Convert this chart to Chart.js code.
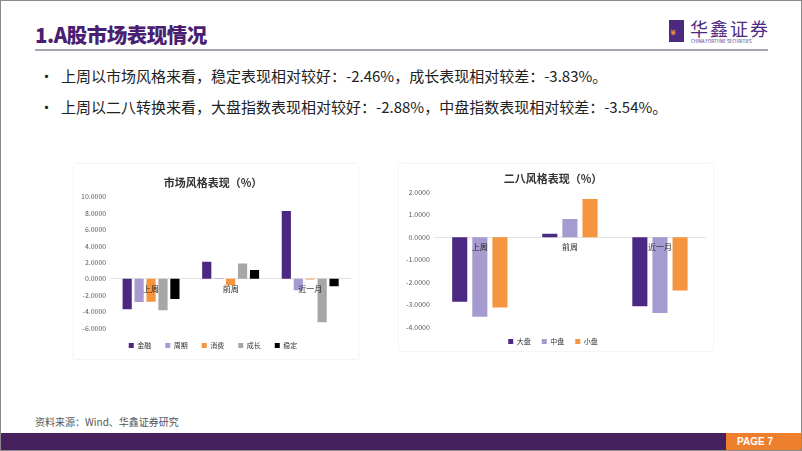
<!DOCTYPE html>
<html><head><meta charset="utf-8">
<script src="https://cdn.jsdelivr.net/npm/chart.js@4.4.1/dist/chart.umd.min.js"></script>
<style>
html,body{margin:0;padding:0;background:#fff;}
#page{position:relative;width:800px;height:449px;border:1px solid #8a8a8a;overflow:hidden;font-family:"Noto Sans CJK SC","Noto Sans",sans-serif;}
.abs{position:absolute;}
#title{left:34px;top:18px;font-size:20.5px;font-weight:900;color:#4a1f72;letter-spacing:-0.5px;}
#rule{left:34px;top:48px;width:733px;height:2px;background:#a7a6b0;}
.bul{left:38px;font-size:15px;color:#222;white-space:nowrap;}
.bul span{display:inline-block;width:22px;}
#logoSq{left:668px;top:19px;width:15px;height:22px;background:#4b2a80;}
#logoSq i{position:absolute;left:2px;top:7px;font-style:normal;color:#f39a3a;font-size:7px;font-weight:bold;}
#logoT{left:689px;top:14px;font-size:18px;color:#4b2a80;letter-spacing:2px;}
#logoS{left:690px;top:37px;font-size:4.5px;color:#4b2a80;white-space:nowrap;}
#src{left:34px;top:413px;font-size:10px;color:#555;}
#foot{left:0;top:432px;width:800px;height:18px;background:#47215d;}
#page7{left:725px;top:432px;width:76px;height:18px;background:#ee7f2d;color:#fff;font-size:10px;font-weight:bold;line-height:18px;text-indent:11px;font-family:"Liberation Sans",sans-serif;}
.box{box-shadow:0 0 2px rgba(0,0,0,0.12);background:#fff;}
canvas{position:absolute;left:0;top:0;}
</style></head>
<body><div id="page">
<div id="title" class="abs">1.A股市场表现情况</div>
<div id="rule" class="abs"></div>
<div class="abs bul" style="top:64px"><span>•</span>上周以市场风格来看，稳定表现相对较好：-2.46%，成长表现相对较差：-3.83%。</div>
<div class="abs bul" style="top:95px"><span>•</span>上周以二八转换来看，大盘指数表现相对较好：-2.88%，中盘指数表现相对较差：-3.54%。</div>
<div id="logoSq" class="abs"><i>₩</i></div>
<div id="logoT" class="abs">华鑫证券</div>
<div id="logoS" class="abs">CHINA FORTUNE SECURITIES</div>
<div class="abs box" style="left:73px;top:163px;width:284px;height:195px"><canvas id="c1" width="284" height="195"></canvas></div>
<div class="abs box" style="left:398px;top:163px;width:314px;height:187px"><canvas id="c2" width="314" height="191"></canvas></div>
<div id="src" class="abs">资料来源：Wind、华鑫证券研究</div>
<div id="foot" class="abs"></div>
<div id="page7" class="abs">PAGE 7</div>
</div>
<script>
// data
const categories = ["上周", "前周", "近一月"];
const styleNames = ["金融", "周期", "消费", "成长", "稳定"];
const finance = [-3.70, 2.06, 8.27];
const cyclical = [-2.84, 0.05, -1.40];
const consumer = [-2.80, -0.80, -0.10];
const growth = [-3.83, 1.85, -5.30];
const stable = [-2.46, 1.07, -0.90];
const capNames = ["大盘", "中盘", "小盘"];
const largeCap = [-2.88, 0.15, -3.08];
const midCap = [-3.54, 0.81, -3.38];
const smallCap = [-3.13, 1.70, -2.38];
const leftTicks = [-6, 10, 2];
const rightTicks = [-4, 2, 1];

const PURPLE = "#4b2882", LAV = "#a59bd0", ORANGE = "#f5953f", GRAY = "#a6a6a6", BLACK = "#000000";
const FONT = '"Noto Sans CJK SC","Noto Sans",sans-serif';
Chart.defaults.font.family = FONT;
Chart.defaults.animation = false;

function makeChart(id, title, names, series, colors, ticks, catPct, barPct, pad, fs) {
  new Chart(document.getElementById(id), {
    type: "bar",
    data: {
      labels: categories,
      datasets: series.map((s, i) => ({ label: names[i], data: s, backgroundColor: colors[i], borderWidth: 0, categoryPercentage: catPct, barPercentage: barPct }))
    },
    options: {
      responsive: false,
      layout: { padding: pad },
      plugins: {
        title: { display: true, text: title, color: "#333", font: { size: fs.title, weight: "bold" }, padding: fs.titlePad },
        legend: { position: "bottom", labels: { boxWidth: fs.box, boxHeight: fs.box, color: "#333", font: { size: fs.leg }, padding: fs.legPad } },
        tooltip: { enabled: false }
      },
      scales: {
        x: { position: { y: 0 }, grid: { display: false, drawTicks: false }, border: { color: "#e3e3e3", width: 1, z: -1 },
             ticks: { z: 1, color: "#262626", font: { size: fs.cat }, padding: fs.catPad, maxRotation: 0 } },
        y: { min: ticks[0], max: ticks[1], grid: { display: false, drawTicks: false }, border: { display: false },
             ticks: { stepSize: ticks[2], color: "#595959", font: { size: fs.tick }, padding: fs.tickPad, callback: v => Number(v).toFixed(4) } }
      }
    }
  });
}

makeChart("c1", "市场风格表现（%）", styleNames, [finance, cyclical, consumer, growth, stable],
  [PURPLE, LAV, ORANGE, GRAY, BLACK], leftTicks, 0.75, 0.77,
  { left: 2, right: 8, top: 8, bottom: 0 },
  { title: 11, titlePad: { top: 4, bottom: 7.5 }, box: 5, leg: 7, legPad: 14, cat: 8, catPad: 5, tick: 7, tickPad: 5 });

makeChart("c2", "二八风格表现（%）", capNames, [largeCap, midCap, smallCap],
  [PURPLE, LAV, ORANGE], rightTicks, 0.67, 0.75,
  { left: 2, right: 8, top: 4, bottom: 0 },
  { title: 11, titlePad: { top: 4, bottom: 7 }, box: 5, leg: 7, legPad: 11, cat: 8, catPad: 5, tick: 7, tickPad: 5 });
</script>
</body></html>
